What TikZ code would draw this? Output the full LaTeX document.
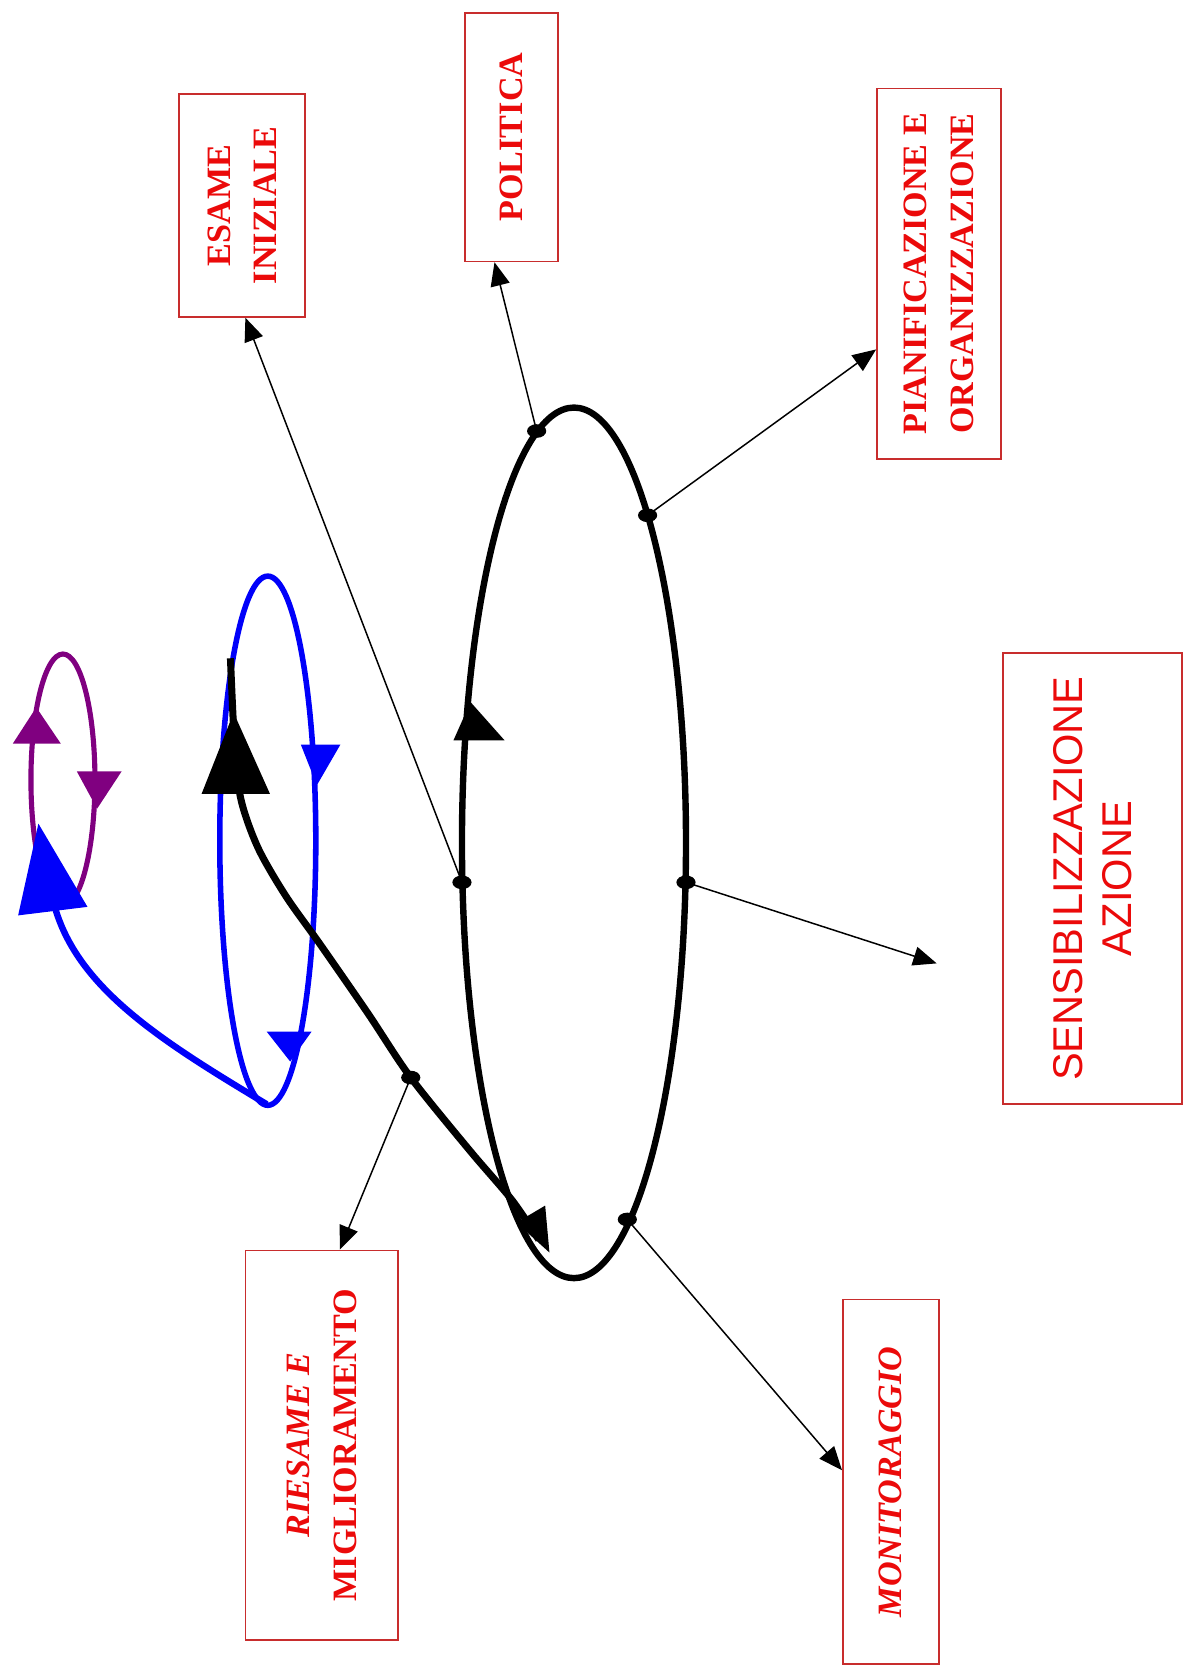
\documentclass[tikz,border=0pt]{standalone}
\usepackage{fontspec}
\setmainfont{Liberation Serif}
\newfontfamily\arialfont{Liberation Sans}
\usetikzlibrary{arrows.meta,calc}
\definecolor{boxred}{RGB}{200,45,45}
\definecolor{txtred}{RGB}{235,10,10}
\definecolor{myblue}{RGB}{0,0,250}
\definecolor{mypurple}{RGB}{128,0,128}
\begin{document}
\begin{tikzpicture}[x=0.5pt,y=-0.5pt,
  lbl/.style={draw=boxred, line width=0.8pt, rotate=90, align=center, text=txtred, inner sep=0pt, font=\fontsize{16}{22}\selectfont\bfseries},
  thinarr/.style={line width=0.7pt, -{Triangle[length=11pt,width=9pt]}},
  dotmark/.style={fill=black}
]
\useasboundingbox[fill=white] (0,0) rectangle (1117,1570);

% boxes
\node[lbl, minimum width=104.5pt, minimum height=59pt] (esa) at (227,192.5) {ESAME\\INIZIALE};
\node[lbl, minimum width=116.5pt, minimum height=43.5pt] (pol) at (479.5,128.5) {POLITICA};
\node[lbl, minimum width=173.5pt, minimum height=58pt] (pia) at (880,256.5) {PIANIFICAZIONE E\\ORGANIZZAZIONE};
\node[lbl, font=\arialfont\fontsize{19.5}{23}\selectfont, minimum width=211.5pt, minimum height=84pt] (sen) at (1024,823.5) {SENSIBILIZZAZIONE\\AZIONE};
\node[lbl, minimum width=182.5pt, minimum height=71.5pt] (rie) at (301.5,1354.5) {\textit{RIESAME E}\\MIGLIORAMENTO};
\node[lbl, minimum width=171pt, minimum height=45pt] (mon) at (835,1389) {\textit{MONITORAGGIO}};

% ellipses
\draw[myblue, line width=2.6pt] (251,788) ellipse [x radius=22.5pt, y radius=124pt];
\draw[mypurple, line width=2.4pt] (59,731) ellipse [x radius=15pt, y radius=59pt];
\draw[line width=3pt] (538,790) ellipse [x radius=52.5pt, y radius=204pt];

% blue connector to purple loop
\draw[myblue, line width=3pt] (250,1035) .. controls (150,975) and (70,925) .. (50,845);
\fill[myblue] (36,772) -- (17,858) -- (82,850) -- cycle;

% blue loop arrowheads
\fill[myblue] (297,736) -- (282,698) -- (319,698) -- cycle;
\fill[myblue] (272,995) -- (250,967) -- (292,967) -- cycle;

% purple loop arrowheads
\fill[mypurple] (34,663) -- (12,697) -- (57,697) -- cycle;
\fill[mypurple] (91,758) -- (72,723) -- (114,723) -- cycle;

% black connector from main loop to blue loop
\draw[line width=3.3pt] plot[smooth] coordinates {(216,617) (220,700) (226,750) (242,795) (268,840) (300,885) (345,950) (385,1010) (440,1078) (480,1125) (505,1162)};
\fill (219,668) -- (189,744) -- (253,744) -- cycle;

% main loop arrowheads
\fill (441,658) -- (425,694) -- (473,694) -- cycle;
\fill (515,1174) -- (484,1146) -- (511,1130) -- cycle;

% dots
\coordinate (d1) at (503,404);
\coordinate (d2) at (607,483);
\coordinate (d3) at (433,827);
\coordinate (d4) at (643,827);
\coordinate (d5) at (588,1143);
\coordinate (d6) at (385,1010);
\foreach \d in {d1,d2,d3,d4,d5,d6} \fill[dotmark] (\d) ellipse [x radius=4.5pt, y radius=3.2pt];

\coordinate (sentip) at (878,903);

% thin arrows
\draw[thinarr] (d1) -- ($(pol.west)+(-16,0)$);
\draw[thinarr] (d2) -- ($(pia.north)+(0,71)$);
\draw[thinarr] (d3) -- ($(esa.west)+(3,0)$);
\draw[thinarr] (d4) -- (sentip);
\draw[thinarr] (d6) -- ($(rie.east)+(17,0)$);
\draw[thinarr] (d5) -- ($(mon.north)+(0,-11)$);
\end{tikzpicture}
\end{document}
